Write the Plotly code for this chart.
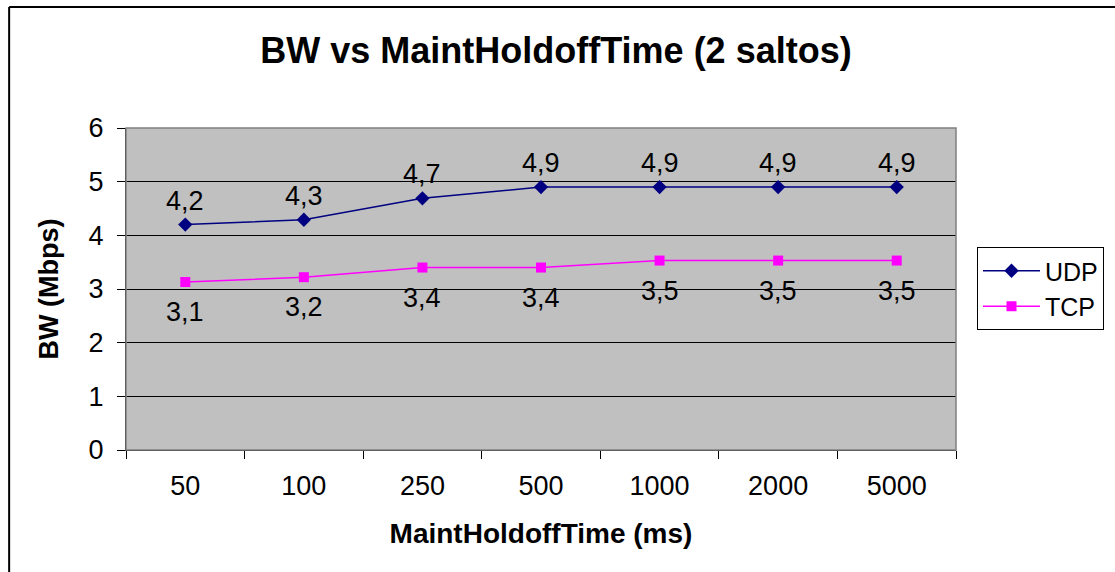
import plotly.graph_objects as go

categories = ["50", "100", "250", "500", "1000", "2000", "5000"]
udp = [4.2, 4.29, 4.69, 4.9, 4.9, 4.9, 4.9]
tcp = [3.13, 3.22, 3.4, 3.4, 3.53, 3.53, 3.53]
y_ticks = [0, 1, 2, 3, 4, 5, 6]

W, H = 1115, 572
L, R, T, B = 126, 158, 128, 122
pw, ph = W - L - R, H - T - B

def px_x(x):
    return (x - L) / pw

def px_y(y):
    return (H - B - y) / ph

FONT = "Liberation Sans, Arial, sans-serif"

def fmt(v):
    return f"{v:.1f}".replace(".", ",")

fig = go.Figure()
fig.add_trace(go.Scatter(
    x=categories, y=udp, name="UDP", mode="lines+markers",
    line=dict(color="#000080", width=1.5),
    marker=dict(symbol="diamond", size=11, color="#000080"),
))
fig.add_trace(go.Scatter(
    x=categories, y=tcp, name="TCP", mode="lines+markers",
    line=dict(color="#FF00FF", width=1.5),
    marker=dict(symbol="square", size=10, color="#FF00FF"),
))

annotations = []
for i, v in enumerate(udp):
    annotations.append(dict(x=i, y=v, xref="x", yref="y", text=fmt(v), showarrow=False,
                            yshift=24, font=dict(size=27, family=FONT, color="black")))
for i, v in enumerate(tcp):
    annotations.append(dict(x=i, y=v, xref="x", yref="y", text=fmt(v), showarrow=False,
                            yshift=-30, font=dict(size=27, family=FONT, color="black")))

shapes = [
    dict(type="line", xref="paper", yref="paper", x0=px_x(9), x1=px_x(W + 5),
         y0=px_y(7), y1=px_y(7), line=dict(color="black", width=2)),
    dict(type="line", xref="paper", yref="paper", x0=px_x(9), x1=px_x(9),
         y0=px_y(7), y1=px_y(H + 5), line=dict(color="black", width=2)),
    dict(type="rect", xref="paper", yref="paper", x0=0, x1=1, y0=0, y1=1,
         line=dict(color="#808080", width=1.5), layer="above"),
]

fig.update_layout(
    width=W, height=H,
    margin=dict(l=L, r=R, t=T, b=B),
    paper_bgcolor="white", plot_bgcolor="#C0C0C0",
    separators=",.",
    font=dict(family=FONT, color="black", size=27),
    title=dict(text="<b>BW vs MaintHoldoffTime (2 saltos)</b>", x=556 / W, xanchor="center",
               y=1 - 50 / H, yanchor="middle", xref="container",
               font=dict(size=36, family=FONT)),
    showlegend=True,
    legend=dict(x=px_x(977), y=px_y(247), xanchor="left", yanchor="top",
                bordercolor="black", borderwidth=1, bgcolor="white",
                font=dict(size=25, family=FONT), tracegroupgap=0,
                itemwidth=57),
    shapes=shapes,
    annotations=annotations,
    xaxis=dict(
        type="category", categoryorder="array", categoryarray=categories,
        range=[-0.5, 6.5],
        tickson="boundaries", ticks="outside", ticklen=8, tickcolor="black",
        ticklabelstandoff=12,
        showline=True, linecolor="black", linewidth=1, showgrid=False,
        tickfont=dict(size=27, family=FONT),
        title=dict(text="<b>MaintHoldoffTime (ms)</b>", font=dict(size=28, family=FONT), standoff=22),
    ),
    yaxis=dict(
        range=[0, 6], tickvals=y_ticks, ticks="outside", ticklen=8, tickcolor="black",
        ticklabelstandoff=8,
        showline=True, linecolor="black", linewidth=1,
        showgrid=True, gridcolor="black", gridwidth=1, zeroline=False,
        tickfont=dict(size=27, family=FONT),
        title=dict(text="<b>BW (Mbps)</b>", font=dict(size=27, family=FONT), standoff=22),
    ),
)

fig.write_html("out.html")
